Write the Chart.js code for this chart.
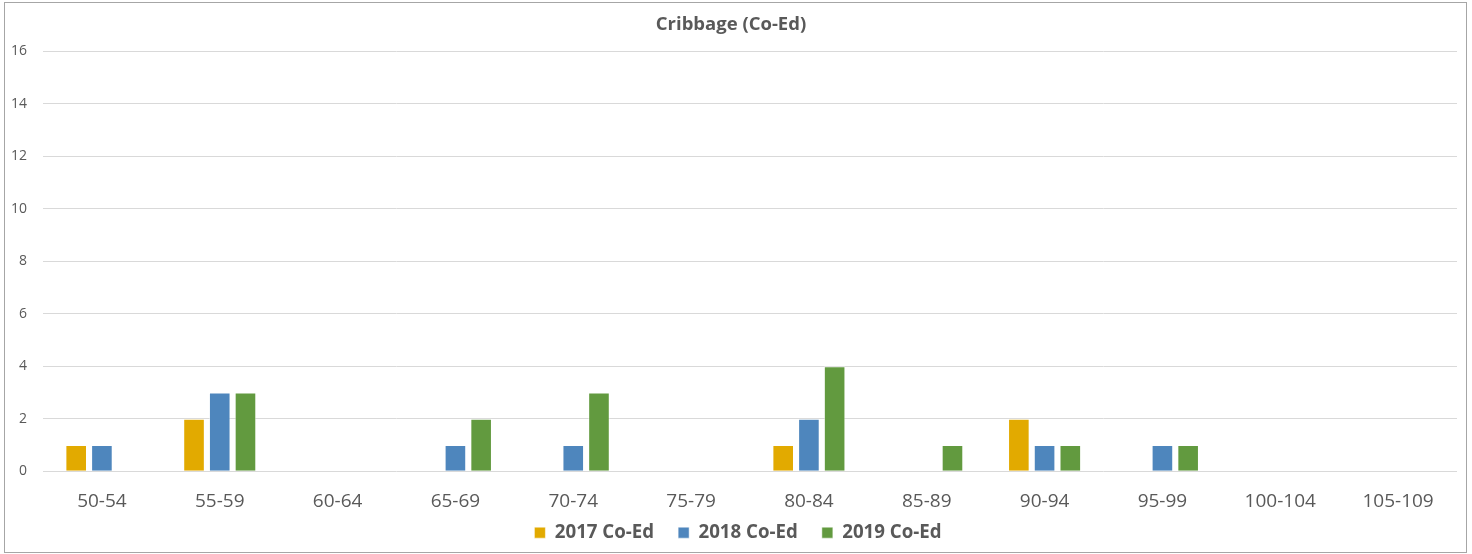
<!DOCTYPE html>
<html>
<head>
<meta charset="utf-8">
<script src="https://cdn.jsdelivr.net/npm/chart.js@4/dist/chart.umd.min.js"></script>
<style>
  body { margin: 0; background: #fff; }
  #frame {
    position: absolute; left: 4px; top: 2px;
    width: 1461px; height: 549px;
    border: 1px solid #a6a6a6;
  }
  #chart { display: block; }
</style>
</head>
<body>
<div id="frame"><canvas id="chart" width="1461" height="549"></canvas></div>
<script>
"use strict";

const categories = ["50-54", "55-59", "60-64", "65-69", "70-74", "75-79",
                    "80-84", "85-89", "90-94", "95-99", "100-104", "105-109"];
const coEd2017 = [1, 2, 0, 0, 0, 0, 1, 0, 2, 0, 0, 0];
const coEd2018 = [1, 3, 0, 1, 1, 0, 2, 0, 1, 1, 0, 0];
const coEd2019 = [0, 3, 0, 2, 3, 0, 4, 1, 1, 1, 0, 0];
const yTicks = [0, 2, 4, 6, 8, 10, 12, 14, 16];

const textColor = "#595959";
const fontFamily = "'Open Sans', 'Liberation Sans', sans-serif";

function series(label, data, color) {
    return {
        label: label,
        data: data,
        backgroundColor: color,
        borderColor: "rgba(255,255,255,0.5)",
        borderWidth: 1,
        categoryPercentage: 0.655,
        barPercentage: 0.84
    };
}

// x labels sit lower than the axis box, so widen the label clip area
// and nudge the legend a little to the right
const layoutFix = {
    id: "layoutFix",
    afterLayout(chart) {
        chart.scales.x.bottom = chart.height;
        chart.legend.left += 7;
        chart.legend.right += 7;
    }
};

new Chart(document.getElementById("chart").getContext("2d"), {
    type: "bar",
    data: {
        labels: categories,
        datasets: [
            series("2017 Co-Ed", coEd2017, "#E2AA00"),
            series("2018 Co-Ed", coEd2018, "#4E86BD"),
            series("2019 Co-Ed", coEd2019, "#629A3F")
        ]
    },
    plugins: [layoutFix],
    options: {
        responsive: false,
        animation: false,
        layout: { padding: { left: 0, right: 9, top: 0, bottom: 0 } },
        plugins: {
            title: {
                display: true,
                text: "Cribbage (Co-Ed)",
                color: textColor,
                font: { family: fontFamily, size: 18.5, weight: "bold" },
                padding: { top: 11, bottom: 15 }
            },
            legend: {
                position: "bottom",
                labels: {
                    color: textColor,
                    boxWidth: 11,
                    boxHeight: 11,
                    padding: 24,
                    font: { family: fontFamily, size: 18.7, weight: "bold" }
                }
            },
            tooltip: { enabled: false }
        },
        scales: {
            x: {
                grid: { display: false, drawTicks: false },
                border: { display: false },
                ticks: {
                    color: textColor,
                    padding: 19,
                    font: { family: fontFamily, size: 19 }
                },
                afterFit: (scale) => { scale.height = 28; }
            },
            y: {
                min: 0,
                max: 16,
                afterBuildTicks: (scale) => { scale.ticks = yTicks.map(v => ({ value: v })); },
                grid: { color: "#d9d9d9", drawTicks: false },
                border: { display: false },
                ticks: {
                    color: textColor,
                    padding: 16,
                    font: { family: fontFamily, size: 14 }
                },
                afterFit: (scale) => { scale.width = 38; }
            }
        }
    }
});
</script>
</body>
</html>
